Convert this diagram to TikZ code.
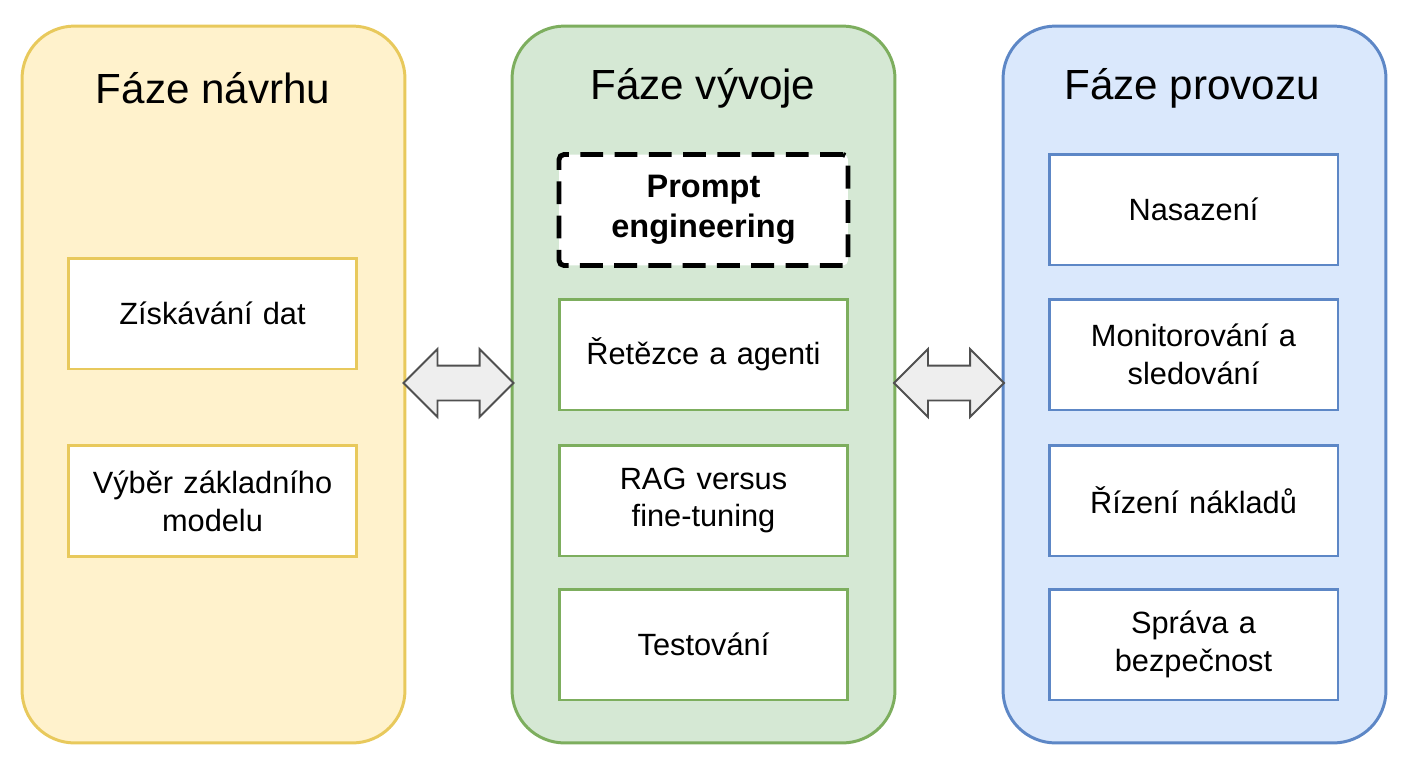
\documentclass[tikz,border=0pt]{standalone}
\usepackage{fontspec}
\setmainfont{Liberation Sans}
\usetikzlibrary{shapes.arrows,calc}
\definecolor{ph_yellow}{HTML}{FFF2CC}
\definecolor{ph_yellowline}{HTML}{E8C95C}
\definecolor{ph_green}{HTML}{D5E8D4}
\definecolor{ph_greenline}{HTML}{7DAE5E}
\definecolor{ph_blue}{HTML}{DAE8FC}
\definecolor{ph_blueline}{HTML}{5D87C6}
\definecolor{ph_arrow}{HTML}{EEEEEE}
\definecolor{ph_arrowline}{HTML}{505050}
\tikzstyle{panel}=[rectangle,rounded corners=1.05cm,line width=1.7pt,
  minimum width=7.66cm,minimum height=14.34cm]
\tikzstyle{title}=[font=\fontsize{24}{28}\selectfont]
\tikzstyle{item}=[rectangle,fill=white,line width=1.7pt,align=center,
  minimum width=5.78cm,minimum height=2.22cm,text width=5.4cm,
  font=\fontsize{17.5}{21.5}\selectfont]
\tikzstyle{dashitem}=[item,draw=black,line width=2.8pt,rounded corners=0.1cm,
  dash pattern=on 13pt off 6.5pt,font=\fontsize{18.5}{22.5}\selectfont\bfseries]
\tikzstyle{link}=[double arrow,fill=ph_arrow,draw=ph_arrowline,line width=1.1pt,
  minimum height=2.2cm,inner xsep=0pt,inner ysep=0.33cm,
  double arrow head extend=0.33cm,double arrow tip angle=90]

\begin{document}
\begin{tikzpicture}[x=0.02cm,y=-0.02cm]
    \useasboundingbox (0,0) rectangle (1408,768);
    \node [style=panel,fill=ph_yellow,draw=ph_yellowline] (design) at (213.5, 384.5) {};
    \node [style=panel,fill=ph_green,draw=ph_greenline] (dev) at (703.5, 384.5) {};
    \node [style=panel,fill=ph_blue,draw=ph_blueline] (ops) at (1194.5, 384.5) {};
    \node [style=title] (t1) at (213, 88) {Fáze návrhu};
    \node [style=title] (t2) at (703, 88) {Fáze vývoje};
    \node [style=title] (t3) at (1192, 88) {Fáze provozu};
    \node [style=item,draw=ph_yellowline] (d1) at (212.5, 313.5) {Získávání dat};
    \node [style=item,draw=ph_yellowline] (d2) at (212.5, 501) {Výběr základního\\modelu};
    \node [style=dashitem] (v1) at (703.5, 210) {Prompt\\engineering};
    \node [style=item,draw=ph_greenline] (v2) at (703.5, 354.5) {Řetězce a agenti};
    \node [style=item,draw=ph_greenline] (v3) at (703.5, 500.5) {RAG versus\\fine-tuning};
    \node [style=item,draw=ph_greenline] (v4) at (703.5, 644.5) {Testování};
    \node [style=item,draw=ph_blueline] (p1) at (1193.5, 209.5) {Nasazení};
    \node [style=item,draw=ph_blueline] (p2) at (1193.5, 354.5) {Monitorování a\\sledování};
    \node [style=item,draw=ph_blueline] (p3) at (1193.5, 500.5) {Řízení nákladů};
    \node [style=item,draw=ph_blueline] (p4) at (1193.5, 644.5) {Správa a\\bezpečnost};
    \node [style=link] (a1) at ($(design.east)!0.5!(dev.west)+(0,-1.5)$) {};
    \node [style=link] (a2) at ($(dev.east)!0.5!(ops.west)+(0,-1.5)$) {};
\end{tikzpicture}
\end{document}
